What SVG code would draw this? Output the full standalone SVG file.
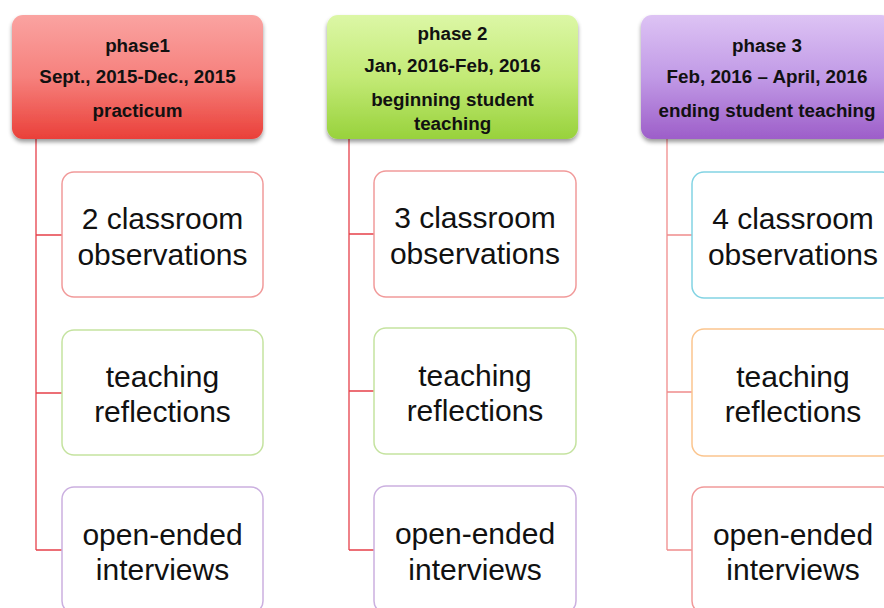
<svg xmlns="http://www.w3.org/2000/svg" width="884" height="608" viewBox="0 0 884 608">
<defs>
<linearGradient id="gRed" x1="0" y1="0" x2="0" y2="1">
<stop offset="0" stop-color="#faa3a1"/>
<stop offset="0.5" stop-color="#f6817d"/>
<stop offset="1" stop-color="#ea4039"/>
</linearGradient>
<linearGradient id="gGreen" x1="0" y1="0" x2="0" y2="1">
<stop offset="0" stop-color="#dcf7a6"/>
<stop offset="0.5" stop-color="#c3ea76"/>
<stop offset="1" stop-color="#98d23c"/>
</linearGradient>
<linearGradient id="gPurple" x1="0" y1="0" x2="0" y2="1">
<stop offset="0" stop-color="#ddc3f4"/>
<stop offset="0.5" stop-color="#c19ae6"/>
<stop offset="1" stop-color="#9d5ec9"/>
</linearGradient>
<filter id="sh" x="-10%" y="-10%" width="120%" height="130%">
<feGaussianBlur in="SourceAlpha" stdDeviation="2.2"/>
<feOffset dx="0" dy="3" result="b"/>
<feComponentTransfer><feFuncA type="linear" slope="0.4"/></feComponentTransfer>
<feMerge><feMergeNode/><feMergeNode in="SourceGraphic"/></feMerge>
</filter>
</defs>
<style>
.hdr{font-family:"Liberation Sans",Arial,sans-serif;font-weight:bold;font-size:18.8px;fill:#111;text-anchor:middle}
.bt{font-family:"Liberation Sans",Arial,sans-serif;font-size:30px;fill:#111;text-anchor:middle}
.box{fill:#fff;stroke-width:1.5}
.c1{fill:none;stroke:#e6404a;stroke-width:1.3}
.c3{fill:none;stroke:#f08c8c;stroke-width:1.3}
</style>

<g id="connectors">
<path class="c1" d="M36 139 V550 M36 235 H62 M36 393 H62 M36 550 H62"/>
<path class="c1" d="M349 139 V550 M349 234 H374 M349 391 H374 M349 550 H374"/>
<path class="c3" d="M667 139 V550 M667 235 H692 M667 392 H692 M667 550 H692"/>
</g>

<g id="phase1">
<rect x="12" y="15" width="251" height="124" rx="11" fill="url(#gRed)" filter="url(#sh)"/>
<text class="hdr" x="137.5" y="52">phase1</text>
<text class="hdr" x="137.5" y="83">Sept., 2015-Dec., 2015</text>
<text class="hdr" x="137.5" y="117">practicum</text>
</g>
<g id="p1-obs">
<rect class="box" x="62" y="172" width="201" height="125" rx="12" stroke="#f19a9a"/>
<text class="bt" x="162.5" y="229">2 classroom</text>
<text class="bt" x="162.5" y="265">observations</text>
</g>
<g id="p1-ref">
<rect class="box" x="62" y="330" width="201" height="125" rx="12" stroke="#c5e3a0"/>
<text class="bt" x="162.5" y="387">teaching</text>
<text class="bt" x="162.5" y="422">reflections</text>
</g>
<g id="p1-int">
<rect class="box" x="62" y="487" width="201" height="126" rx="12" stroke="#cbb0e0"/>
<text class="bt" x="162.5" y="545">open-ended</text>
<text class="bt" x="162.5" y="580">interviews</text>
</g>

<g id="phase2">
<rect x="327" y="15" width="251" height="124" rx="11" fill="url(#gGreen)" filter="url(#sh)"/>
<text class="hdr" x="452.5" y="40">phase 2</text>
<text class="hdr" x="452.5" y="72">Jan, 2016-Feb, 2016</text>
<text class="hdr" x="452.5" y="106">beginning student</text>
<text class="hdr" x="452.5" y="130">teaching</text>
</g>
<g id="p2-obs">
<rect class="box" x="374" y="171" width="202" height="126" rx="12" stroke="#f19a9a"/>
<text class="bt" x="475" y="228">3 classroom</text>
<text class="bt" x="475" y="264">observations</text>
</g>
<g id="p2-ref">
<rect class="box" x="374" y="328" width="202" height="126" rx="12" stroke="#c5e3a0"/>
<text class="bt" x="475" y="386">teaching</text>
<text class="bt" x="475" y="421">reflections</text>
</g>
<g id="p2-int">
<rect class="box" x="374" y="486" width="202" height="127" rx="12" stroke="#cbb0e0"/>
<text class="bt" x="475" y="544">open-ended</text>
<text class="bt" x="475" y="580">interviews</text>
</g>

<g id="phase3">
<rect x="641" y="15" width="251" height="124" rx="11" fill="url(#gPurple)" filter="url(#sh)"/>
<text class="hdr" x="767" y="52">phase 3</text>
<text class="hdr" x="767" y="83">Feb, 2016 – April, 2016</text>
<text class="hdr" x="767" y="117">ending student teaching</text>
</g>
<g id="p3-obs">
<rect class="box" x="692" y="172" width="202" height="126" rx="12" stroke="#82d3e3"/>
<text class="bt" x="793" y="229">4 classroom</text>
<text class="bt" x="793" y="265">observations</text>
</g>
<g id="p3-ref">
<rect class="box" x="692" y="329" width="202" height="127" rx="12" stroke="#fbc58e"/>
<text class="bt" x="793" y="387">teaching</text>
<text class="bt" x="793" y="422">reflections</text>
</g>
<g id="p3-int">
<rect class="box" x="692" y="487" width="202" height="126" rx="12" stroke="#f19a9a"/>
<text class="bt" x="793" y="545">open-ended</text>
<text class="bt" x="793" y="580">interviews</text>
</g>
</svg>
